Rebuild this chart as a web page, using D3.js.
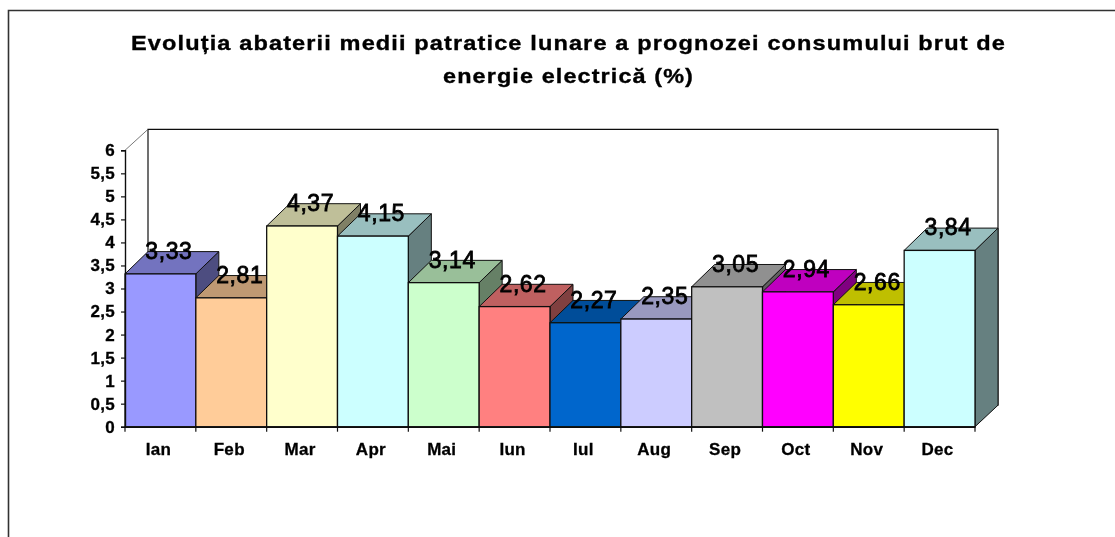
<!DOCTYPE html>
<html><head><meta charset="utf-8">
<script src="https://cdn.jsdelivr.net/npm/d3@7"></script>
<style>html,body{margin:0;padding:0;background:#fff}svg{display:block}text{font-family:"Liberation Sans",Arial,sans-serif;fill:#000}</style>
</head><body><svg id="c" width="1115" height="537"></svg>
<script>
const categories=["Ian","Feb","Mar","Apr","Mai","Iun","Iul","Aug","Sep","Oct","Nov","Dec"];
const values=[3.33,2.81,4.37,4.15,3.14,2.62,2.27,2.35,3.05,2.94,2.66,3.84];
const colors=["#9999FF","#FFCC99","#FFFFCC","#CCFFFF","#CCFFCC","#FF8080","#0066CC","#CCCCFF","#C0C0C0","#FF00FF","#FFFF00","#CCFFFF"];
const yTicks=[0,0.5,1,1.5,2,2.5,3,3.5,4,4.5,5,5.5,6];
const titleLines=["Evoluția abaterii medii patratice lunare a prognozei consumului brut de","energie electrică (%)"];
const titleWidths=[875,251];

const svg=d3.select("#c");
svg.append("defs").append("filter").attr("id","soft").attr("x",0).attr("y",0).attr("width",1115).attr("height",537)
 .attr("filterUnits","userSpaceOnUse").append("feGaussianBlur").attr("stdDeviation",0.55);
const root=svg.append("g").attr("filter","url(#soft)");
root.append("rect").attr("width",1115).attr("height",537).attr("fill","#fff");
const x=d3.scaleBand().domain(categories).range([125,975]);
const y=d3.scaleLinear().domain([0,6]).range([426.7,150.3]);
const dx=23,dy=-21,dyTop=-22.3,dyFloor=-21.5;
const line="#111";
const fmt=d=>String(d).replace(".",",");

// outer frame (top and left only)
root.append("path").attr("d",d3.line()([[8.5,537],[8.5,10.5],[1115,10.5]])).attr("fill","none").attr("stroke","#333").attr("stroke-width",1.6);

// title
root.append("g").selectAll("text").data(titleLines).join("text")
 .attr("x",568.5).attr("y",(d,i)=>50+i*33).attr("text-anchor","middle")
 .attr("font-size",21).attr("font-weight","bold").attr("stroke","#000").attr("stroke-width",0.35)
 .attr("letter-spacing",1)
 .attr("textLength",(d,i)=>titleWidths[i]).attr("lengthAdjust","spacingAndGlyphs").text(d=>d);

// back wall + left wall
const x0=x.range()[0],x1=x.range()[1],y0=y(0),yT=y(6);
root.append("path").attr("fill","none").attr("stroke",line).attr("stroke-width",1.2)
 .attr("d",d3.line()([[x0+dx,y0+dy],[x0+dx,yT+dy],[x1+dx,yT+dy],[x1+dx,y0+dy]]));
root.append("path").attr("fill","none").attr("stroke","#555").attr("stroke-width",0.8)
 .attr("d",d3.line()([[x0,yT],[x0+dx,yT+dy]]));

// bars
const lp=d3.line();
const bars=root.append("g").selectAll("g").data(categories).join("g");
bars.each(function(c,i){
 const g=d3.select(this),l=x(c),r=l+x.bandwidth(),t=y(values[i])+0.6,b=y(0);
 const col=d3.color(colors[i]);
 const dark=k=>{const q=d3.rgb(col);return d3.rgb(q.r*k,q.g*k,q.b*k).formatHex();};
 g.append("path").attr("d",lp([[r,b],[r+dx,b+dyFloor],[r+dx,t+dyTop],[r,t]])+"Z").attr("fill",dark(0.5)).attr("stroke",line).attr("stroke-width",1);
 g.append("path").attr("d",lp([[l,t],[l+dx,t+dyTop],[r+dx,t+dyTop],[r,t]])+"Z").attr("fill",dark(0.75)).attr("stroke",line).attr("stroke-width",1);
 g.append("rect").attr("x",l).attr("y",t).attr("width",x.bandwidth()).attr("height",b-t).attr("fill",colors[i]).attr("stroke",line).attr("stroke-width",1.3);
});

// axes
const ya=root.append("g").attr("transform","translate(125,0)")
 .call(d3.axisLeft(y).tickValues(yTicks).tickFormat(fmt).tickSize(4).tickPadding(6));
const xa=root.append("g").attr("transform",`translate(-2,${y0})`)
 .call(d3.axisBottom(x).tickSize(0).tickPadding(16));
[ya,xa].forEach(a=>{a.selectAll("text").attr("font-size",17).attr("font-weight","bold").attr("letter-spacing",0.3).attr("stroke","#000").attr("stroke-width",0.3).attr("font-family",'"Liberation Sans",Arial,sans-serif').attr("fill","#000");
 a.selectAll("line").attr("stroke",line).attr("stroke-width",1.2);
 a.select(".domain").attr("stroke",line).attr("stroke-width",1.4);});
xa.select(".domain").attr("transform","translate(2,0)");
xa.selectAll("text").attr("dy","0.71em");
root.append("g").selectAll("line").data(categories.concat(["end"])).join("line")
 .attr("x1",(c,i)=>x0+i*x.step()).attr("x2",(c,i)=>x0+i*x.step())
 .attr("y1",y0).attr("y2",y0+5).attr("stroke",line).attr("stroke-width",1.2);

// value labels
root.append("g").selectAll("text").data(values).join("text")
 .attr("x",(d,i)=>x(categories[i])+x.bandwidth()/2+8.5)
 .attr("y",d=>y(d)-14.5)
 .attr("text-anchor","middle").attr("font-size",23).attr("letter-spacing",0.6)
 .attr("stroke","#000").attr("stroke-width",0.8).text(fmt);
</script></body></html>
